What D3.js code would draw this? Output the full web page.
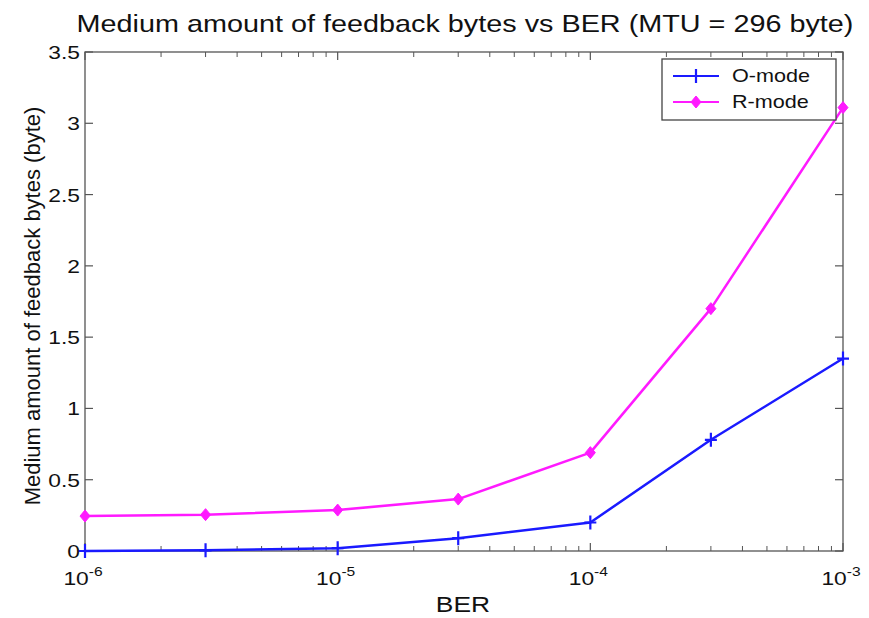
<!DOCTYPE html>
<html>
<head>
<meta charset="utf-8">
<script src="https://cdn.jsdelivr.net/npm/d3@7"></script>
<style>
  body { margin: 0; background: #fff; }
  svg { font-family: "Liberation Sans", Arial, sans-serif; }
</style>
</head>
<body>
<svg id="chart" width="869" height="618"></svg>
<script>
// Bit error rates on the x axis
const ber = [1e-6, 3e-6, 1e-5, 3e-5, 1e-4, 3e-4, 1e-3];
// Medium amount of feedback bytes per mode
const oMode = [0.0, 0.005, 0.02, 0.09, 0.20, 0.78, 1.35];
const rMode = [0.245, 0.255, 0.287, 0.364, 0.69, 1.70, 3.11];
const seriesNames = ["O-mode", "R-mode"];
const seriesColors = ["#1a1aff", "#ff1aff"];
const yTicks = [0, 0.5, 1, 1.5, 2, 2.5, 3, 3.5];
const xTicks = [1e-6, 1e-5, 1e-4, 1e-3];
const xExponents = ["-6", "-5", "-4", "-3"];

const svg = d3.select("#chart");
const m = { left: 85, right: 843, top: 52, bottom: 551 };

const x = d3.scaleLog().domain([1e-6, 1e-3]).range([m.left, m.right]);
const y = d3.scaleLinear().domain([0, 3.5]).range([m.bottom, m.top]);

const axisColor = "#555";
const sx = 1.2; // wide lettering

// text placed at (px, py) and widened horizontally
function label(g, px, py, size, anchor, str) {
  return g.append("text")
    .attr("transform", `translate(${px},${py}) scale(${sx},1)`)
    .attr("text-anchor", anchor).attr("font-size", size).attr("fill", "#111")
    .text(str);
}

// plot box
svg.append("rect")
  .attr("x", m.left).attr("y", m.top)
  .attr("width", m.right - m.left).attr("height", m.bottom - m.top)
  .attr("fill", "none").attr("stroke", axisColor).attr("stroke-width", 1.3);

// minor log ticks (inside, bottom and top)
const minor = [];
for (let e = -6; e < -3; e++) for (let k = 2; k <= 9; k++) minor.push(k * Math.pow(10, e));

const gx = svg.append("g");
minor.forEach(v => {
  gx.append("line").attr("x1", x(v)).attr("x2", x(v)).attr("y1", m.bottom).attr("y2", m.bottom - 5)
    .attr("stroke", axisColor).attr("stroke-width", 1);
  gx.append("line").attr("x1", x(v)).attr("x2", x(v)).attr("y1", m.top).attr("y2", m.top + 5)
    .attr("stroke", axisColor).attr("stroke-width", 1);
});
xTicks.forEach((v, i) => {
  gx.append("line").attr("x1", x(v)).attr("x2", x(v)).attr("y1", m.bottom).attr("y2", m.bottom - 8)
    .attr("stroke", axisColor).attr("stroke-width", 1.2);
  gx.append("line").attr("x1", x(v)).attr("x2", x(v)).attr("y1", m.top).attr("y2", m.top + 8)
    .attr("stroke", axisColor).attr("stroke-width", 1.2);
  const t = label(gx, x(v) - 2, 585, 19, "middle", null);
  t.append("tspan").text("10");
  t.append("tspan").attr("dy", -9).attr("font-size", 13).text(xExponents[i]);
});

// y ticks (inside, left and right)
const gy = svg.append("g");
yTicks.forEach(v => {
  gy.append("line").attr("x1", m.left).attr("x2", m.left + 8).attr("y1", y(v)).attr("y2", y(v))
    .attr("stroke", axisColor).attr("stroke-width", 1.2);
  gy.append("line").attr("x1", m.right).attr("x2", m.right - 8).attr("y1", y(v)).attr("y2", y(v))
    .attr("stroke", axisColor).attr("stroke-width", 1.2);
  label(gy, m.left - 5, y(v) + 7, 19, "end", String(v));
});

// series lines and markers
const line = d3.line().x((d, i) => x(ber[i])).y(d => y(d));
const seriesData = [oMode, rMode];

seriesData.forEach((vals, s) => {
  svg.append("path").datum(vals)
    .attr("d", line).attr("fill", "none")
    .attr("stroke", seriesColors[s]).attr("stroke-width", 2.5)
    .attr("stroke-linejoin", "round");
  vals.forEach((v, i) => drawMarker(svg, s, x(ber[i]), y(v)));
});

function drawMarker(g, s, cx, cy) {
  const c = seriesColors[s];
  if (s === 0) {
    g.append("path").attr("d", `M${cx - 6},${cy}H${cx + 6}M${cx},${cy - 7}V${cy + 7}`)
      .attr("stroke", c).attr("stroke-width", 2.2);
  } else {
    g.append("path").attr("d", `M${cx},${cy - 6}L${cx + 5},${cy}L${cx},${cy + 6}L${cx - 5},${cy}Z`)
      .attr("fill", c).attr("stroke", c).attr("stroke-width", 1);
  }
}

// legend
const lg = svg.append("g");
lg.append("rect").attr("x", 662).attr("y", 59).attr("width", 174).attr("height", 61)
  .attr("fill", "#fff").attr("stroke", "#444").attr("stroke-width", 1.3);
seriesNames.forEach((name, s) => {
  const ly = 76 + s * 26;
  lg.append("line").attr("x1", 673).attr("x2", 719).attr("y1", ly).attr("y2", ly)
    .attr("stroke", seriesColors[s]).attr("stroke-width", 2.2);
  drawMarker(lg, s, 696, ly);
  label(lg, 732, ly + 6, 18, "start", name);
});

// title and axis labels
label(svg, 465, 32, 24, "middle", "Medium amount of feedback bytes vs BER (MTU = 296 byte)");
label(svg, 463, 612, 22, "middle", "BER");
svg.append("text").attr("transform", "translate(40,306) rotate(-90)").attr("text-anchor", "middle")
  .attr("font-size", 22).attr("fill", "#111").text("Medium amount of feedback bytes (byte)");
</script>
</body>
</html>
